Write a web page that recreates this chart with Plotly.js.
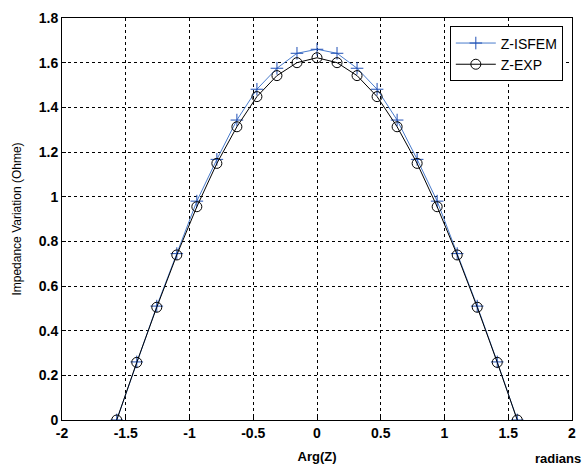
<!DOCTYPE html>
<html>
<head>
<meta charset="utf-8">
<script src="https://cdn.plot.ly/plotly-3.0.1.min.js"></script>
<style>html,body{margin:0;padding:0;background:#fff;}#plot{width:585px;height:470px;}</style>
</head>
<body>
<div id="plot"></div>
<script>
var argZ = [-1.5708,-1.4137,-1.2566,-1.0996,-0.9425,-0.7854,-0.6283,-0.4712,-0.3142,-0.1571,0,
            0.1571,0.3142,0.4712,0.6283,0.7854,0.9425,1.0996,1.2566,1.4137,1.5708];
var zIsfem = [0,0.26,0.51,0.745,0.98,1.167,1.343,1.481,1.575,1.642,1.66,
              1.642,1.575,1.481,1.343,1.167,0.98,0.745,0.51,0.26,0];
var zExp = [0,0.258,0.505,0.739,0.955,1.149,1.313,1.448,1.542,1.60,1.622,
            1.60,1.542,1.448,1.313,1.149,0.955,0.739,0.505,0.258,0];
var xTicks = [-2,-1.5,-1,-0.5,0,0.5,1,1.5,2];
var xTickText = ['-2','-1.5','-1','-0.5','0','0.5','1','1.5','2'];
var yTicks = [0,0.2,0.4,0.6,0.8,1,1.2,1.4,1.6,1.8];
var yTickText = ['0','0.2','0.4','0.6','0.8','1','1.2','1.4','1.6','1.8'];

var traces = [
  {x: argZ, y: zIsfem, name: 'Z-ISFEM', type: 'scatter', mode: 'lines+markers',
   line: {color: '#4a7ccc', width: 1},
   marker: {symbol: 'cross-thin-open', size: 9, color: '#1f4fb5', line: {color: '#1f4fb5', width: 1}}},
  {x: argZ, y: zExp, name: 'Z-EXP', type: 'scatter', mode: 'lines+markers',
   line: {color: '#000000', width: 1},
   marker: {symbol: 'circle-open', size: 10, color: '#000000', line: {color: '#000000', width: 1}}}
];

var fam = 'Liberation Sans, Arial, sans-serif';
var layout = {
  width: 585, height: 470,
  margin: {l: 62, r: 13, t: 18, b: 50},
  paper_bgcolor: '#fff', plot_bgcolor: '#fff',
  showlegend: true,
  legend: {x: 0.982, xanchor: 'right', y: 0.979, yanchor: 'top',
           bordercolor: '#000', borderwidth: 1, bgcolor: '#fff',
           font: {family: fam, size: 14, color: '#000'},
           tracegroupgap: 0, itemwidth: 40},
  xaxis: {range: [-2, 2], tickvals: xTicks, ticktext: xTickText.map(function(t){return '<b>'+t+'</b>';}),
          showgrid: true, gridcolor: '#000', griddash: '3px,3px', gridwidth: 1,
          zeroline: false, showline: true, linecolor: '#000', linewidth: 1, mirror: true,
          ticks: 'inside', ticklen: 4, tickcolor: '#000',
          tickfont: {family: fam, size: 14, color: '#000'},
          title: {text: '<b>Arg(Z)</b>', font: {family: fam, size: 13, color: '#000'}, standoff: 12}},
  yaxis: {range: [0, 1.8], tickvals: yTicks, ticktext: yTickText.map(function(t){return '<b>'+t+'</b>';}),
          showgrid: true, gridcolor: '#000', griddash: '3px,3px', gridwidth: 1,
          zeroline: false, showline: true, linecolor: '#000', linewidth: 1, mirror: true,
          ticks: 'inside', ticklen: 4, tickcolor: '#000',
          tickfont: {family: fam, size: 14, color: '#000'},
          title: {text: 'Impedance Variation (Ohme)', font: {family: fam, size: 12, color: '#000'}, standoff: 14}},
  annotations: [
    {text: '<b>radians</b>', xref: 'paper', yref: 'paper', x: 1.0216, y: -0.095, xanchor: 'right', yanchor: 'middle',
     showarrow: false, font: {family: fam, size: 13, color: '#000'}}
  ]
};
Plotly.newPlot('plot', traces, layout, {displayModeBar: false, staticPlot: true});
</script>
</body>
</html>
